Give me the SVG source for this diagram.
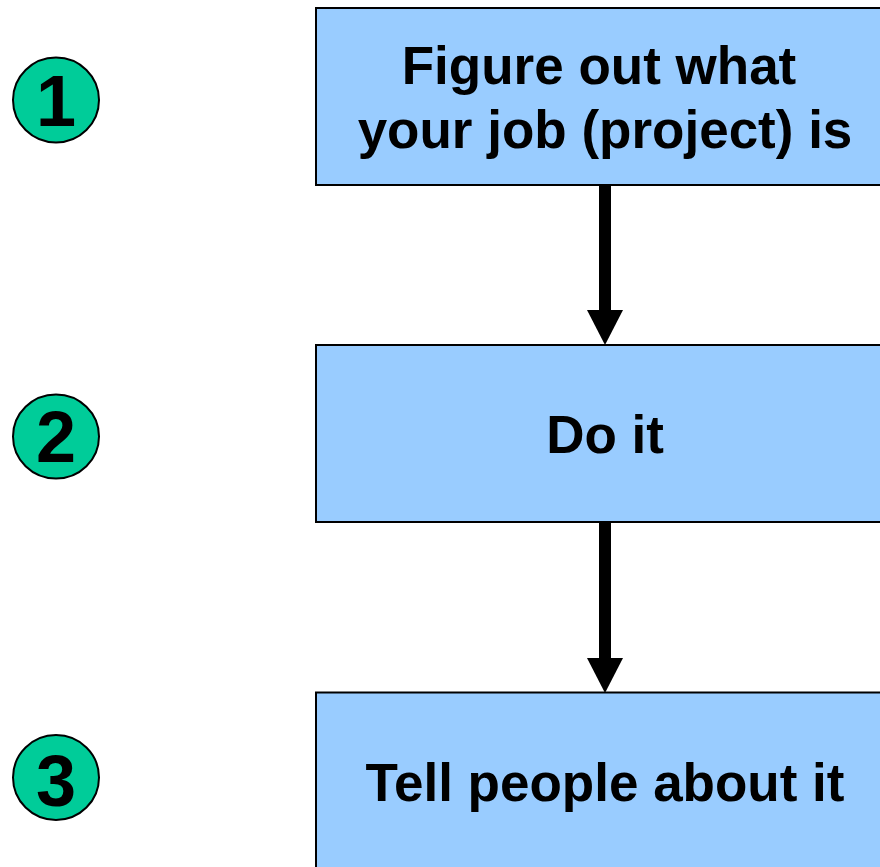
<svg xmlns="http://www.w3.org/2000/svg" width="880" height="867" viewBox="0 0 880 867">
  <defs>
    <style>
      .box { fill: #99CCFF; stroke: #000; stroke-width: 2; }
      .num { fill: #00CC99; stroke: #000; stroke-width: 2; }
      .lbl { font-family: "Liberation Sans", Arial, sans-serif; font-weight: bold; font-size: 53px; fill: #000; text-anchor: middle; }
      .dig { font-family: "Liberation Sans", Arial, sans-serif; font-weight: bold; font-size: 72px; fill: #000; text-anchor: middle; }
      .conn { stroke: #000; stroke-width: 12; fill: none; }
    </style>
    <marker id="head" markerUnits="userSpaceOnUse" markerWidth="35" markerHeight="36" viewBox="0 0 35 36" refX="0" refY="18" orient="auto">
      <path d="M0,0 L35,18 L0,36 z" fill="#000"/>
    </marker>
  </defs>
  <rect width="880" height="867" fill="#fff"/>

  <g id="badge1">
    <ellipse class="num" cx="56" cy="100" rx="43" ry="42.5"/>
    <text class="dig" x="56" y="126">1</text>
  </g>
  <g id="badge2">
    <ellipse class="num" cx="56" cy="436.5" rx="43" ry="42"/>
    <text class="dig" x="56" y="462">2</text>
  </g>
  <g id="badge3">
    <ellipse class="num" cx="56" cy="777.5" rx="43" ry="42.5"/>
    <text class="dig" x="56" y="806">3</text>
  </g>

  <g id="connectors">
    <path class="conn" d="M605,186 L605,310" marker-end="url(#head)"/>
    <path class="conn" d="M605,523 L605,658" marker-end="url(#head)"/>
  </g>

  <g id="step1">
    <rect class="box" x="316" y="8" width="580" height="177"/>
    <text class="lbl" x="599" y="84">Figure out what</text>
    <text class="lbl" x="605" y="148">your job (project) is</text>
  </g>
  <g id="step2">
    <rect class="box" x="316" y="345" width="580" height="177"/>
    <text class="lbl" x="605" y="453">Do it</text>
  </g>
  <g id="step3">
    <rect class="box" x="316" y="692.5" width="580" height="200"/>
    <text class="lbl" x="605" y="801">Tell people about it</text>
  </g>
</svg>
